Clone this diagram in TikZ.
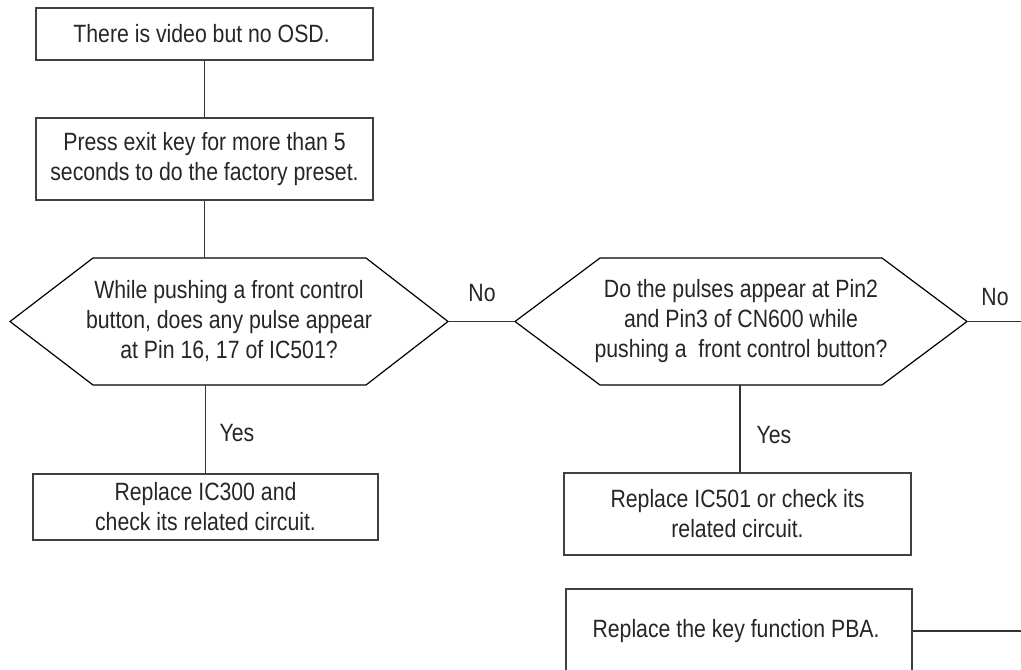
\documentclass[tikz,border=0pt]{standalone}
\usepackage{fontspec}
\setmainfont{Liberation Sans}[FakeStretch=0.85]
\usepackage{tikz}
\usetikzlibrary{calc}

\begin{document}
\begin{tikzpicture}[
  x=0.5pt, y=-0.5pt,
  box/.style={
    draw=black!75,
    line width=0.8pt,
    inner sep=0pt,
    align=center,
    text=black!85,
    font=\fontsize{12.5}{15}\selectfont
  },
  ask/.style={
    inner sep=0pt,
    align=center,
    text=black!85,
    font=\fontsize{12.5}{15}\selectfont
  },
  hexline/.style={draw=black, line width=0.6pt},
  link/.style={draw=black!80, line width=0.7pt},
  answer/.style={text=black!85, font=\fontsize{12.5}{15}\selectfont}
]
\clip (0,0) rectangle (1021,669);

\node[box, minimum width=168.5pt, minimum height=26pt] (osd) at (204.5,34) {
  There is video but no OSD.
};
\node[box, minimum width=168.5pt, minimum height=41pt] (press) at (204.5,159) {
  Press exit key for more than 5\\
  seconds to do the factory preset.
};

% first question
\node[ask] (pulse) at (229,321.5) {
  While pushing a front control\\
  button, does any pulse appear\\
  at Pin 16, 17 of IC501?
};
\draw[hexline] (10,321.5) coordinate (pulsew) -- (93,258) coordinate (pulsen)
  -- (366,258) -- (448,321.5) coordinate (pulsee)
  -- (366,385) -- (93,385) coordinate (pulses) -- cycle;

\node[box, minimum width=172.5pt, minimum height=33pt] (ic300) at (205.5,507) {
  Replace IC300 and\\
  check its related circuit.
};

% second question
\node[ask] (cn600) at (741,321.5) {
  Do the pulses appear at Pin2\\
  and Pin3 of CN600 while\\
  pushing a\ \ front control button?
};
\draw[hexline] (515,321.5) coordinate (cn600w) -- (600,258)
  -- (882,258) -- (967,321.5) coordinate (cn600e)
  -- (882,385) -- (740,385) coordinate (cn600s) -- (600,385) -- cycle;

\node[box, minimum width=173.5pt, minimum height=41pt] (ic501) at (737.5,514) {
  Replace IC501 or check its\\
  related circuit.
};
\node[box, minimum width=173pt, minimum height=42pt] (pba) at (739,631) {
  Replace the key function PBA.
};

\coordinate (noexit) at (1021,321.5);
\coordinate (pbaexit) at (1021,631);

\draw[link] (osd) -- (press);
\draw[link] (press.south) -- (press.south |- pulsen);
\draw[link] (ic300.north |- pulses) -- (ic300.north);
\draw[link] (pulsee) -- (cn600w);
\draw[link] (cn600e) -- (noexit);
\draw[link] (cn600s) -- (cn600s |- ic501.north);
\draw[link] (pba.east) -- (pbaexit);

\node[answer] (no1) at (482,293) {No};
\node[answer] (no2) at (995,297) {No};
\node[answer] (yes1) at (237,433) {Yes};
\node[answer] (yes2) at (774,435) {Yes};

\end{tikzpicture}
\end{document}
